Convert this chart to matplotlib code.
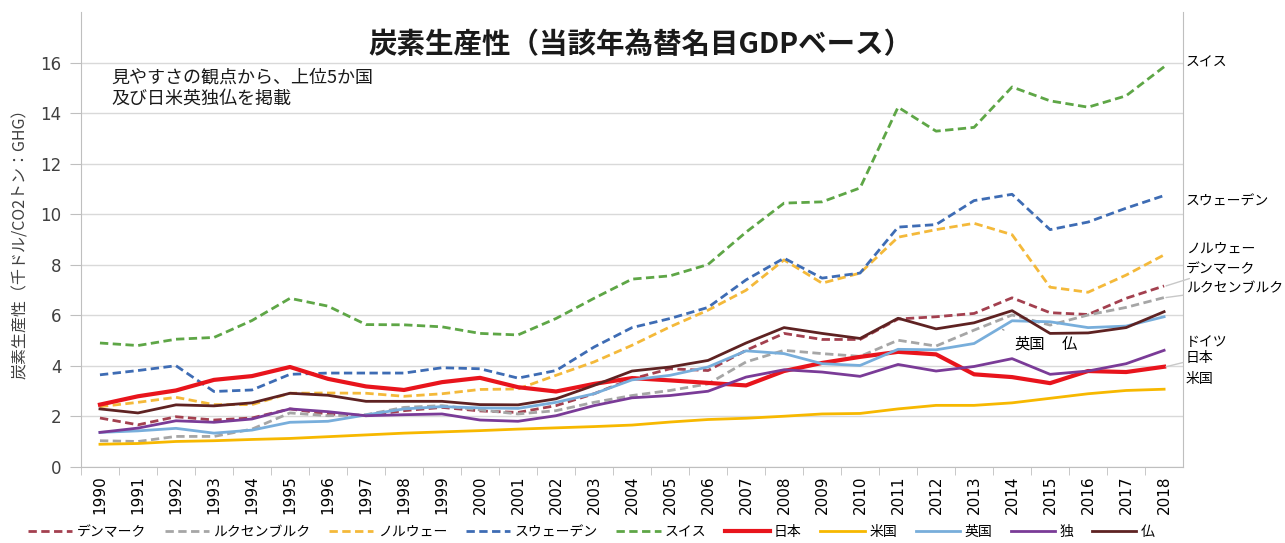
import matplotlib
matplotlib.use('Agg')
import matplotlib.pyplot as plt

plt.rcParams['font.family'] = ['Noto Sans CJK JP', 'DejaVu Sans']

years = list(range(1990, 2019))

# 炭素生産性（千ドル/CO2トン：GHG）
denmark = [1.94, 1.67, 1.99, 1.86, 1.94, 2.30, 2.10, 2.03, 2.23, 2.36, 2.22, 2.16, 2.43, 2.90, 3.49,
           3.89, 3.82, 4.62, 5.29, 5.05, 5.05, 5.86, 5.95, 6.08, 6.70, 6.11, 6.04, 6.68, 7.17]
luxembourg = [1.04, 1.01, 1.21, 1.21, 1.50, 2.14, 2.03, 2.07, 2.36, 2.43, 2.26, 2.10, 2.23, 2.56, 2.83,
              3.03, 3.29, 4.16, 4.62, 4.49, 4.38, 5.02, 4.79, 5.42, 6.02, 5.62, 6.02, 6.32, 6.71]
norway = [2.39, 2.56, 2.76, 2.47, 2.47, 2.92, 2.93, 2.92, 2.80, 2.90, 3.07, 3.09, 3.63, 4.16, 4.82,
          5.55, 6.21, 7.00, 8.20, 7.28, 7.68, 9.10, 9.40, 9.65, 9.20, 7.12, 6.92, 7.60, 8.40]
sweden = [3.65, 3.82, 4.01, 2.99, 3.05, 3.67, 3.72, 3.72, 3.72, 3.93, 3.89, 3.52, 3.82, 4.75, 5.52,
          5.88, 6.32, 7.41, 8.27, 7.48, 7.68, 9.50, 9.60, 10.55, 10.80, 9.40, 9.70, 10.25, 10.75]
swiss = [4.91, 4.81, 5.06, 5.13, 5.80, 6.68, 6.37, 5.64, 5.63, 5.55, 5.29, 5.23, 5.88, 6.68, 7.44,
         7.57, 8.02, 9.30, 10.45, 10.50, 11.05, 14.25, 13.30, 13.45, 15.05, 14.50, 14.25, 14.70, 15.85]
japan = [2.47, 2.80, 3.03, 3.45, 3.60, 3.96, 3.49, 3.19, 3.05, 3.36, 3.53, 3.16, 2.99, 3.29, 3.52,
         3.43, 3.33, 3.23, 3.80, 4.12, 4.36, 4.56, 4.46, 3.67, 3.56, 3.32, 3.80, 3.76, 3.97]
usa = [0.90, 0.93, 1.01, 1.04, 1.09, 1.13, 1.20, 1.27, 1.34, 1.39, 1.44, 1.50, 1.55, 1.60, 1.66,
       1.78, 1.88, 1.93, 2.01, 2.10, 2.12, 2.30, 2.44, 2.44, 2.54, 2.72, 2.90, 3.03, 3.08]
uk = [1.37, 1.43, 1.53, 1.34, 1.46, 1.77, 1.81, 2.06, 2.30, 2.39, 2.34, 2.32, 2.56, 2.90, 3.45,
      3.63, 3.96, 4.60, 4.49, 4.09, 4.02, 4.66, 4.64, 4.89, 5.79, 5.75, 5.52, 5.58, 5.95]
germany = [1.37, 1.54, 1.83, 1.77, 1.90, 2.30, 2.19, 2.03, 2.07, 2.10, 1.86, 1.81, 2.03, 2.43, 2.74,
           2.83, 3.00, 3.56, 3.85, 3.76, 3.59, 4.06, 3.80, 3.98, 4.29, 3.67, 3.80, 4.09, 4.62]
france = [2.30, 2.14, 2.46, 2.42, 2.54, 2.92, 2.84, 2.60, 2.60, 2.60, 2.47, 2.46, 2.70, 3.23, 3.80,
          3.96, 4.22, 4.91, 5.52, 5.29, 5.09, 5.89, 5.47, 5.71, 6.19, 5.29, 5.31, 5.52, 6.15]

names = ['デンマーク', 'ルクセンブルク', 'ノルウェー', 'スウェーデン', 'スイス',
         '日本', '米国', '英国', '独', '仏']
series = [denmark, luxembourg, norway, sweden, swiss, japan, usa, uk, germany, france]
colors = ['#A3404F', '#A6A6A6', '#F4B93A', '#3E6CB4', '#5EA646',
          '#E8141C', '#F7B800', '#78AEDB', '#7A3B97', '#5E2222']
dashed = [True, True, True, True, True, False, False, False, False, False]
widths = [2.0, 2.0, 2.0, 2.0, 2.0, 3.0, 2.0, 2.0, 2.0, 2.0]

# 右側のラベル（名前, ラベルの高さ, 引出線の対象）
end_labels = [('スイス', 16.0, None), ('スウェーデン', 10.5, None), ('ノルウェー', 8.65, None),
              ('デンマーク', 7.85, denmark), ('ルクセンブルク', 7.08, luxembourg),
              ('ドイツ', 4.95, None), ('日本', 4.3, japan), ('米国', 3.5, None)]

fig = plt.figure(figsize=(12.85, 5.43), dpi=100)
ax = fig.add_axes([0.063, 0.140, 0.8577, 0.837])

for name, vals, c, d, w in zip(names, series, colors, dashed, widths):
    if d:
        ax.plot(years, vals, color=c, lw=w, ls=(0, (3, 1.6)), label=name)
    else:
        ax.plot(years, vals, color=c, lw=w, label=name)

ax.set_xlim(1989.5, 2018.5)
ax.set_ylim(0, 18)
ax.set_yticks(range(0, 17, 2))
ax.set_xticks(years)
ax.set_xticklabels([str(y) for y in years], rotation=90, fontsize=11, family=['DejaVu Sans'])
ax.set_xticks([y + 0.5 for y in years[:-1]] + [1989.5], minor=True)
ax.tick_params(axis='x', which='major', length=0, pad=6)
ax.tick_params(axis='x', which='minor', length=6, color='#BFBFBF', direction='out')
ax.tick_params(axis='y', length=8, color='#BFBFBF', labelsize=12, labelcolor='#404040', pad=6)
for lab in ax.get_yticklabels():
    lab.set_family(['DejaVu Sans'])

ax.grid(axis='y', color='#D9D9D9', lw=1)
ax.set_axisbelow(True)
ax.spines['top'].set_visible(False)
for s in ['left', 'right', 'bottom']:
    ax.spines[s].set_color('#BFBFBF')

ax.set_ylabel('炭素生産性（千ドル/CO2トン：GHG）', fontsize=11.5, color='#404040', labelpad=8)

ax.text(0.508, 0.928, '炭素生産性（当該年為替名目GDPベース）', transform=ax.transAxes,
        ha='center', va='center', fontsize=20.5, fontweight='bold', color='#1A1A1A')
ax.text(1990.3, 15.0, '見やすさの観点から、上位5か国\n及び日米英独仏を掲載', fontsize=13,
        va='center', ha='left', linespacing=1.25, color='#1A1A1A')

for lab, ly, src in end_labels:
    if src is None:
        ax.text(2018.57, ly, lab, fontsize=10, va='center', ha='left', clip_on=False)
    else:
        ax.annotate(lab, xy=(2018.05, src[-1]), xytext=(2018.57, ly), fontsize=10,
                    va='center', ha='left', annotation_clip=False,
                    arrowprops=dict(arrowstyle='-', color='#C8C8C8', lw=1,
                                    shrinkA=0, shrinkB=0))

ax.annotate('英国', xy=(2013.75, 5.45), xytext=(2014.45, 4.85), fontsize=11,
            va='center', ha='center',
            arrowprops=dict(arrowstyle='-', color='#A0A0A0', lw=1, shrinkA=6, shrinkB=0))
ax.text(2015.5, 4.85, '仏', fontsize=11, va='center', ha='center')

fig.legend(loc='center', bbox_to_anchor=(0.46, 0.02), ncol=10, frameon=False,
           fontsize=10, handlelength=3.2, columnspacing=1.35, handletextpad=0.3)

plt.savefig('out.png', dpi=100)
